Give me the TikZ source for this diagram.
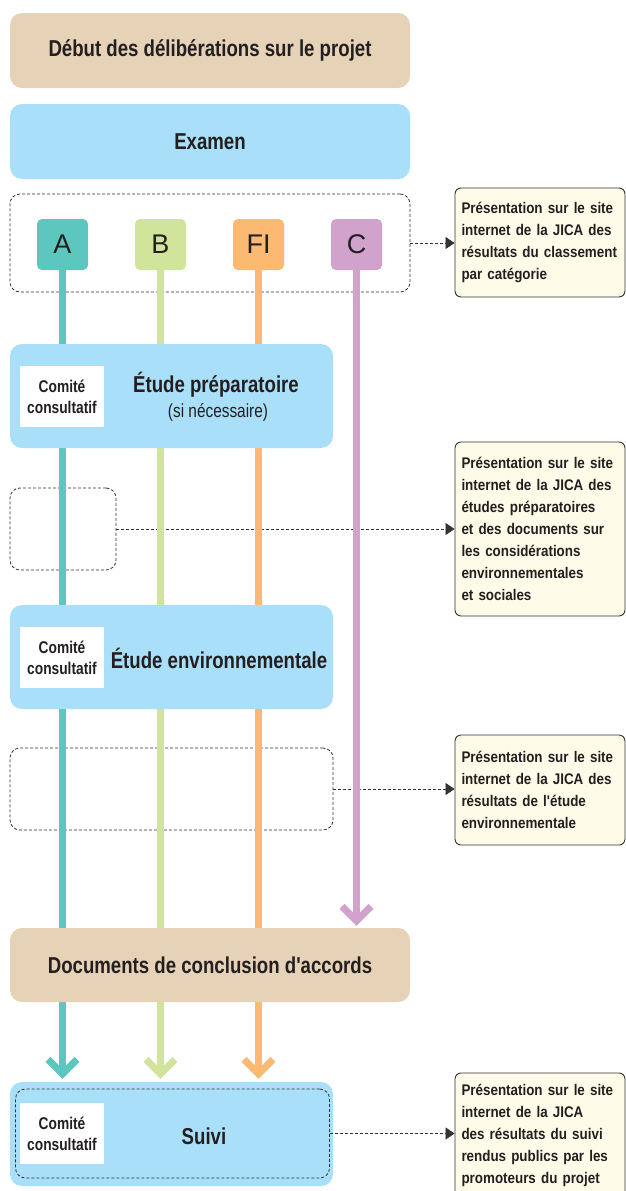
\documentclass[tikz,border=0pt]{standalone}
\usepackage{fontspec}
\setmainfont{Liberation Sans}
\newfontfamily\cond{Liberation Sans}[FakeStretch=0.87]
\newfontfamily\condn{Liberation Sans}[FakeStretch=0.81]
\usetikzlibrary{arrows.meta}
\pgfdeclarelayer{bg}\pgfdeclarelayer{lines}
\pgfsetlayers{bg,lines,main}
\definecolor{tanc}{HTML}{E6D2B7}
\definecolor{sky}{HTML}{A9DFF9}
\definecolor{cream}{HTML}{FEFBE8}
\definecolor{cA}{HTML}{5CC6BF}
\definecolor{cB}{HTML}{D1E49B}
\definecolor{cF}{HTML}{FBB972}
\definecolor{cC}{HTML}{D1A3CC}
\definecolor{dk}{HTML}{333333}
\definecolor{txt}{HTML}{231F20}
\tikzset{
  boxbase/.style={rectangle, rounded corners=12pt, draw=none, inner sep=0pt},
  tanbox/.style={boxbase, fill=tanc},
  skybox/.style={boxbase, fill=sky},
  dbox/.style={rectangle, rounded corners=10pt, draw=dk, dash pattern=on 3pt off 2pt, line width=0.8pt, inner sep=0pt},
  sq/.style={rectangle, rounded corners=5pt, minimum size=51pt, inner sep=0pt, text=txt, font=\fontsize{27}{27}\selectfont},
  info/.style={rectangle, rounded corners=6pt, draw=dk, line width=0.9pt, fill=cream, text width=157pt, align=left, inner xsep=6.5pt, inner ysep=0pt, minimum width=170pt, text=txt, font=\cond\bfseries\fontsize{15.4}{22}\selectfont},
  wcbox/.style={rectangle, fill=white, inner sep=0pt, align=center, text=txt, font=\condn\bfseries\fontsize{17}{21}\selectfont},
  title/.style={text=txt, font=\condn\bfseries\fontsize{23}{26}\selectfont, inner sep=0pt},
  plainline/.style={line width=7pt},
  chev/.style={line width=7pt, line join=miter, line cap=butt},
  darr/.style={draw=dk, line width=0.8pt, dash pattern=on 3pt off 2pt, -{Triangle[length=9pt,width=12pt]}}
}
\begin{document}
\begin{tikzpicture}[x=1pt,y=-1pt]
\useasboundingbox (0,0) rectangle (626,1191);

\node[tanbox, minimum width=400pt, minimum height=75pt] (start) at (210,50.5) {};
\node[title] at (start.center) {Début des délibérations sur le projet};
\node[skybox, minimum width=400pt, minimum height=75pt] (exam) at (210,141.5) {};
\node[title] at (exam.center) {Examen};

\node[sq, fill=cA] (sqA) at (62.5,244.5) {A};
\node[sq, fill=cB] (sqB) at (160.5,244.5) {B};
\node[sq, fill=cF] (sqF) at (258.5,244.5) {FI};
\node[sq, fill=cC] (sqC) at (356.5,244.5) {C};

\node[skybox, minimum width=323pt, minimum height=104pt] (prep) at (171.5,396) {};
\node[wcbox, minimum width=84pt, minimum height=61pt] (wc1) at (62,396.5) {Comité\\consultatif};
\node[title] (prept) at (216,385) {Étude préparatoire};
\node[text=txt, font=\condn\fontsize{19}{21}\selectfont, inner sep=0pt] (prepn) at (218,412) {(si nécessaire)};

\node[skybox, minimum width=323pt, minimum height=104pt] (env) at (171.5,657) {};
\node[wcbox, minimum width=84pt, minimum height=61pt] (wc2) at (62,657.5) {Comité\\consultatif};
\node[title] (envt) at (219,658) {Étude environnementale};

\node[tanbox, minimum width=400pt, minimum height=74pt] (docs) at (210,965) {};
\node[title] at (docs.center) {Documents de conclusion d'accords};

\node[skybox, minimum width=323pt, minimum height=104pt] (suivi) at (171.5,1134) {};
\node[dbox, minimum width=314pt, minimum height=89pt] (suivid) at (172.5,1133.5) {};
\node[wcbox, minimum width=84pt, minimum height=61pt] (wc4) at (62,1133.5) {Comité\\consultatif};
\node[title] (suivit) at (204,1136) {Suivi};

\node[info, minimum height=109pt] (i1) at (540,242.5) {Présentation sur le site\\internet de la JICA des\\résultats du classement\\par catégorie};
\node[info, minimum height=174pt] (i2) at (540,529) {Présentation sur le site\\internet de la JICA des\\études préparatoires\\et des documents sur\\les considérations\\environnementales\\et sociales};
\node[info, minimum height=110pt] (i3) at (540,790) {Présentation sur le site\\internet de la JICA des\\résultats de l'étude\\environnementale};
\node[info, minimum height=124pt] (i4) at (540,1135) {Présentation sur le site\\internet de la JICA\\des résultats du suivi\\rendus publics par les\\promoteurs du projet};

\begin{pgfonlayer}{bg}
\node[dbox, minimum width=400pt, minimum height=98pt] (d1) at (210,243) {};
\node[dbox, minimum width=106pt, minimum height=82pt] (d2) at (63,529) {};
\node[dbox, minimum width=323pt, minimum height=82pt] (d3) at (171.5,789) {};
\draw[darr] (d1.east) -- (d1.east -| i1.west);
\draw[darr] (d2.east) -- (d2.east -| i2.west);
\draw[darr] (d3.east) -- (d3.east -| i3.west);
\end{pgfonlayer}
\draw[darr] (suivid.east) -- (suivid.east -| i4.west);

\coordinate (tA) at ([yshift=8pt]sqA |- suivi.north);
\coordinate (tB) at ([yshift=8pt]sqB |- suivi.north);
\coordinate (tF) at ([yshift=8pt]sqF |- suivi.north);
\coordinate (tC) at ([yshift=7pt]sqC |- docs.north);
\begin{pgfonlayer}{lines}
\foreach \n/\c in {A/cA,B/cB,F/cF,C/cC}{
  \draw[plainline, draw=\c] (sq\n.south) -- (t\n);
  \draw[chev, draw=\c] ([shift={(-14.5pt,14.5pt)}]t\n) -- (t\n) -- ([shift={(14.5pt,14.5pt)}]t\n);
}
\end{pgfonlayer}
\end{tikzpicture}
\end{document}
